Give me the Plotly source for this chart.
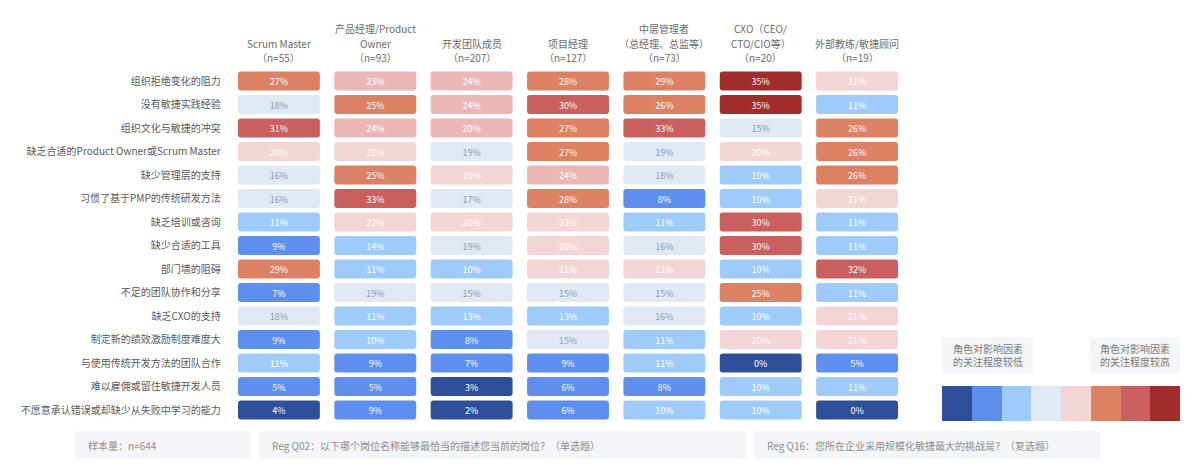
import plotly.graph_objects as go

# ---------------- data ----------------
roles = ["Scrum Master<br>（n=55）",
         "产品经理/Product<br>Owner<br>（n=93）",
         "开发团队成员<br>（n=207）",
         "项目经理<br>（n=127）",
         "中层管理者<br>（总经理、总监等）<br>（n=73）",
         "CXO（CEO/<br>CTO/CIO等）<br>（n=20）",
         "外部教练/敏捷顾问<br>（n=19）"]

challenges = ["组织拒绝变化的阻力",
              "没有敏捷实践经验",
              "组织文化与敏捷的冲突",
              "缺乏合适的Product Owner或Scrum Master",
              "缺少管理层的支持",
              "习惯了基于PMP的传统研发方法",
              "缺乏培训或咨询",
              "缺少合适的工具",
              "部门墙的阻碍",
              "不足的团队协作和分享",
              "缺乏CXO的支持",
              "制定新的绩效激励制度难度大",
              "与使用传统开发方法的团队合作",
              "难以雇佣或留住敏捷开发人员",
              "不愿意承认错误或却缺少从失败中学习的能力"]

# percentage per challenge (row) and role (column)
values = [
    [27, 23, 24, 28, 29, 35, 21],
    [18, 25, 24, 30, 26, 35, 11],
    [31, 24, 20, 27, 33, 15, 26],
    [20, 22, 19, 27, 19, 20, 26],
    [16, 25, 20, 24, 18, 10, 26],
    [16, 33, 17, 28, 8, 10, 21],
    [11, 22, 20, 23, 11, 30, 11],
    [9, 14, 19, 20, 16, 30, 11],
    [29, 11, 10, 21, 21, 10, 32],
    [7, 19, 15, 15, 15, 25, 11],
    [18, 11, 13, 13, 16, 10, 21],
    [9, 10, 8, 15, 11, 20, 21],
    [11, 9, 7, 9, 11, 0, 5],
    [5, 5, 3, 6, 8, 10, 11],
    [4, 9, 2, 6, 10, 10, 0],
]

# colour class of each cell as shown in the chart (0 = lowest concern ... 8 = highest)
levels = [
    [6, 5, 5, 6, 6, 8, 4],
    [3, 6, 5, 7, 6, 8, 2],
    [7, 5, 5, 6, 7, 3, 6],
    [4, 4, 3, 6, 3, 4, 6],
    [3, 6, 4, 5, 3, 2, 6],
    [3, 7, 3, 6, 1, 2, 4],
    [2, 4, 4, 4, 2, 7, 2],
    [1, 2, 3, 4, 3, 7, 2],
    [6, 2, 2, 4, 4, 2, 7],
    [1, 3, 3, 3, 3, 6, 2],
    [3, 2, 2, 2, 3, 2, 4],
    [1, 2, 1, 3, 2, 4, 4],
    [2, 1, 1, 1, 2, 0, 1],
    [1, 1, 0, 1, 1, 2, 2],
    [0, 1, 0, 1, 2, 2, 0],
]

legend_levels = [0, 1, 2, 3, 4, 6, 7, 8]
legend_low = "角色对影响因素<br>的关注程度较低"
legend_high = "角色对影响因素<br>的关注程度较高"
footer_notes = ["样本量：n=644",
                "Reg Q02：以下哪个岗位名称能够最恰当的描述您当前的岗位？（单选题）",
                "Reg Q16：您所在企业采用规模化敏捷最大的挑战是？（复选题）"]

# ---------------- style ----------------
palette = ["#2F4F9B", "#5E8FEE", "#9FCBFA", "#DFE8F3", "#F3D5D5",
           "#EAB7B6", "#DD8165", "#C9605F", "#A02D2A"]
FONT = "Noto Sans CJK SC"
OFF = 8                       # page body margin of the html page
W, H = 1200 - OFF, 472 - OFF

def px(x):
    return (x - OFF) / W

def py(y):
    return 1 - (y - OFF) / H

xs, ys, bases, colors, texts, tcolors = [], [], [], [], [], []
for r, row in enumerate(values):
    for c, v in enumerate(row):
        lv = levels[r][c]
        ys.append(r)
        xs.append(0.85)
        bases.append(c - 0.425)
        colors.append(palette[lv])
        texts.append(f"{v}%")
        tcolors.append("#8D9BAE" if lv == 3 else "#FFFFFF")

fig = go.Figure()
fig.add_trace(go.Bar(
    orientation="h", x=xs, y=ys, base=bases, width=0.81,
    marker=dict(color=colors, cornerradius=3, line=dict(width=0)),
    text=texts, textposition="inside", insidetextanchor="middle", textangle=0,
    textfont=dict(color=tcolors, size=11, family=FONT),
    hoverinfo="skip", showlegend=False, xaxis="x", yaxis="y",
))

# legend swatches
n = len(palette)
cscale = []
for i, col in enumerate(palette):
    cscale += [[i / n, col], [(i + 1) / n, col]]
fig.add_trace(go.Heatmap(
    z=[legend_levels], x=list(range(len(legend_levels))), y=[0],
    colorscale=cscale, zmin=-0.5, zmax=n - 0.5, showscale=False,
    hoverinfo="skip", xaxis="x2", yaxis="y2", xgap=0, ygap=0,
))

shapes, annotations = [], []
HEADER_BOTTOM = 58      # centre of the last header line (px)
LINE = 15               # header line spacing (px)
for c, lab in enumerate(roles):
    lines = lab.split("<br>")
    for k, line in enumerate(reversed(lines)):
        annotations.append(dict(x=c, y=py(HEADER_BOTTOM - k * LINE), xref="x", yref="paper",
                                text=line, showarrow=False, xanchor="center", yanchor="middle",
                                font=dict(size=10, color="#6B6B6B", family=FONT)))

# legend text boxes
for (x0, x1), txt in [((942, 1033), legend_low), ((1090, 1180), legend_high)]:
    shapes.append(dict(type="rect", xref="paper", yref="paper",
                       x0=px(x0), x1=px(x1), y0=py(373), y1=py(337),
                       fillcolor="#F4F5F9", line=dict(width=0), layer="below"))
    annotations.append(dict(x=px((x0 + x1) / 2), y=py(355), xref="paper", yref="paper",
                            text=txt, showarrow=False, align="center",
                            xanchor="center", yanchor="middle",
                            font=dict(size=10, color="#7A7A7A", family=FONT)))

# footer boxes
for (x0, x1), txt in zip([(75, 251), (259, 746), (754, 1101)], footer_notes):
    shapes.append(dict(type="rect", xref="paper", yref="paper",
                       x0=px(x0), x1=px(x1), y0=py(459), y1=py(431),
                       fillcolor="#F4F5F9", line=dict(width=0), layer="below"))
    annotations.append(dict(x=px(x0 + 11), y=py(445), xref="paper", yref="paper",
                            text=txt, showarrow=False, xanchor="left", yanchor="middle",
                            font=dict(size=10, color="#8E8E8E", family=FONT)))

fig.update_layout(
    width=W, height=H, margin=dict(l=0, r=0, t=0, b=0),
    paper_bgcolor="white", plot_bgcolor="white",
    font=dict(family=FONT),
    barmode="overlay", showlegend=False,
    xaxis=dict(domain=[px(230.75), px(905.25)], range=[-0.5, 6.5],
               showgrid=False, zeroline=False, showticklabels=False, fixedrange=True),
    yaxis=dict(domain=[py(421.75), py(69.25)], range=[14.5, -0.5],
               tickmode="array", tickvals=list(range(len(challenges))), ticktext=challenges,
               showgrid=False, zeroline=False, ticks="", ticklabelstandoff=9,
               tickfont=dict(size=10, color="#5A5A5A", family=FONT), automargin=False),
    xaxis2=dict(domain=[px(942), px(1180)], range=[-0.5, 7.5], anchor="y2",
                showgrid=False, zeroline=False, showticklabels=False, fixedrange=True),
    yaxis2=dict(domain=[py(421), py(386)], range=[-0.5, 0.5], anchor="x2",
                showgrid=False, zeroline=False, showticklabels=False, fixedrange=True),
    shapes=shapes, annotations=annotations,
)

fig.write_html("out.html")
